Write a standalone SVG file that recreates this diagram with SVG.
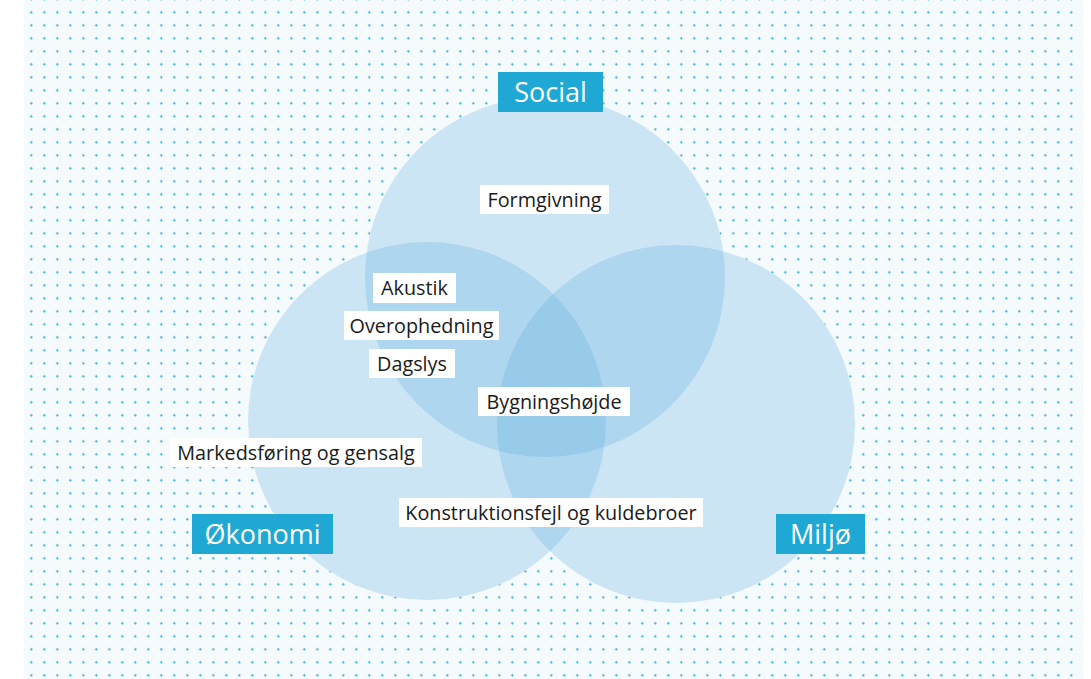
<svg xmlns="http://www.w3.org/2000/svg" width="1091" height="679" viewBox="0 0 1091 679">
<defs>
<pattern id="dots" patternUnits="userSpaceOnUse" x="37.8" y="5.8" width="13" height="13">
<rect x="5.5" y="6" width="2" height="1" fill="#1fa8d4"/>
<rect x="6" y="5.5" width="1" height="2" fill="#1fa8d4"/>
<rect x="5.75" y="5.75" width="1.5" height="1.5" fill="#1fa8d4"/>
</pattern>
<style>
.base{fill:#f5fafd}
.c{fill:#62b0de;fill-opacity:0.28}
.tag{fill:#1fa8d4}
.tagt{font-family:"Open Sans","Liberation Sans",sans-serif;font-size:27px;fill:#ffffff;text-anchor:middle}
.box{fill:#ffffff}
.lt{font-family:"Open Sans","Liberation Sans",sans-serif;font-size:19.8px;fill:#1a1a1a;text-anchor:middle}
</style>
</defs>
<rect x="0" y="0" width="1091" height="679" fill="#ffffff"/>
<rect x="24" y="0" width="1059" height="679" fill="#f5fafd"/>
<rect x="24" y="0" width="1059" height="679" fill="url(#dots)"/>
<g id="circles">
<circle class="base" cx="545" cy="277" r="180"/>
<circle class="base" cx="427" cy="421" r="179"/>
<circle class="base" cx="676" cy="424" r="179"/>
<circle id="social-circle" class="c" cx="545" cy="277" r="180"/>
<circle id="okonomi-circle" class="c" cx="427" cy="421" r="179"/>
<circle id="miljo-circle" class="c" cx="676" cy="424" r="179"/>
</g>
<g id="connectors"></g>
<g id="social"><rect class="tag" x="498" y="72" width="105" height="40"/><text class="tagt" x="550.5" y="102">Social</text></g>
<g id="okonomi"><rect class="tag" x="192" y="514" width="141" height="40"/><text class="tagt" x="262.5" y="544">Økonomi</text></g>
<g id="miljo"><rect class="tag" x="776" y="514" width="89" height="40"/><text class="tagt" x="820.5" y="544">Miljø</text></g>
<g id="formgivning"><rect class="box" x="480" y="185" width="129" height="29"/><text class="lt" x="544.5" y="207">Formgivning</text></g>
<g id="akustik"><rect class="box" x="373" y="273" width="83" height="30"/><text class="lt" x="414.5" y="295">Akustik</text></g>
<g id="overophedning"><rect class="box" x="344" y="311" width="155" height="29"/><text class="lt" x="421.5" y="333">Overophedning</text></g>
<g id="dagslys"><rect class="box" x="369" y="349" width="86" height="29"/><text class="lt" x="412" y="371">Dagslys</text></g>
<g id="bygningshojde"><rect class="box" x="478" y="387" width="152" height="29"/><text class="lt" x="554" y="409">Bygningshøjde</text></g>
<g id="markedsforing"><rect class="box" x="170" y="438" width="252" height="29"/><text class="lt" x="296" y="460">Markedsføring og gensalg</text></g>
<g id="konstruktionsfejl"><rect class="box" x="399" y="498" width="304" height="29"/><text class="lt" x="551" y="520">Konstruktionsfejl og kuldebroer</text></g>
</svg>
